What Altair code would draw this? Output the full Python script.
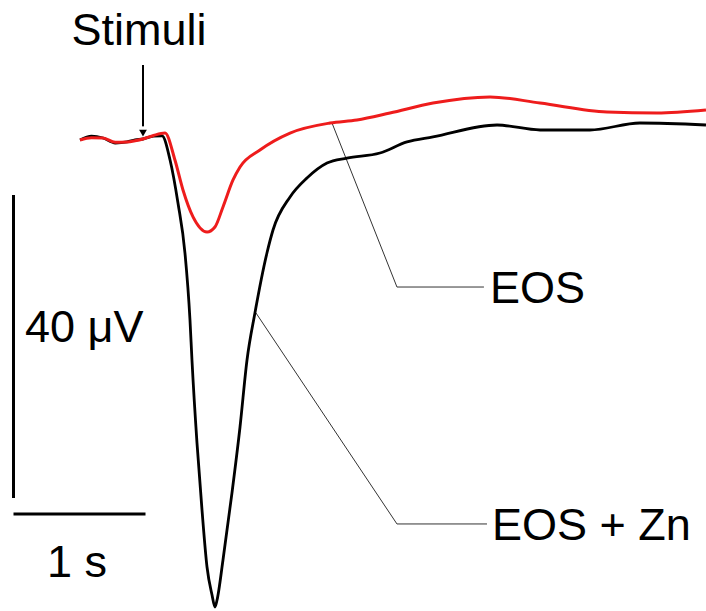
import altair as alt
import pandas as pd

# Time (s, stimulus at 0) and field potential (µV, baseline 0)
t_zn = [-0.477, -0.390, -0.303, -0.210, -0.121, -0.060, 0.0, 0.080, 0.144, 0.205, 0.265, 0.318,
        0.356, 0.371, 0.409, 0.447, 0.485, 0.523, 0.545, 0.561, 0.606, 0.674, 0.735, 0.788,
        0.848, 0.939, 0.985, 1.114, 1.242, 1.394, 1.545, 1.795, 2.000, 2.197, 2.682, 3.008,
        3.386, 3.765, 4.265]
v_zn = [0.0, 0.5, 0.26, -0.4, -0.26, 0.0, 0.13, 0.5, 0.53, -2.64, -8.32, -14.92,
        -23.76, -29.04, -39.99, -48.84, -56.37, -60.07, -61.65, -60.73, -55.45, -46.60, -37.89, -29.04,
        -22.84, -14.92, -11.88, -7.52, -5.02, -3.04, -2.38, -1.72, -0.26, 0.40, 1.98, 1.32,
        1.32, 2.24, 1.98]

t_eos = [-0.477, -0.390, -0.303, -0.210, -0.121, -0.060, 0.0, 0.080, 0.167, 0.242, 0.303, 0.379,
         0.485, 0.545, 0.606, 0.682, 0.735, 0.886, 1.114, 1.417, 1.621, 1.871, 2.197, 2.629,
         3.008, 3.515, 3.894, 4.265]
v_eos = [0.0, 0.3, 0.26, -0.3, -0.26, -0.1, 0.13, 0.6, 0.92, -2.64, -6.60, -10.16,
         -12.15, -11.49, -8.84, -5.28, -3.56, -1.32, 0.92, 2.24, 2.64, 3.56, 4.88, 5.68,
         4.88, 3.70, 3.56, 3.96]

# Leader lines for labels
lead_eos_t = [1.432, 1.924, 2.583]
lead_eos_v = [2.24, -19.41, -19.41]
lead_zn_t = [0.856, 1.924, 2.606]
lead_zn_v = [-22.84, -50.69, -50.69]

# Scale bars: 40 µV and 1 s
bar_t0, bar_v0 = -0.981, -7.26
bar_v_len = 40.0
bar_t_len = 1.0
hbar_v = -49.37

# Labels
label_text = ["EOS", "EOS + Zn", "40 μV", "1 s", "Stimuli"]
label_t = [2.629, 2.644, -0.894, -0.727, -0.030]
label_v = [-21.52, -52.81, -26.67, -57.69, 12.54]
label_align = ["left", "left", "left", "left", "center"]

# Stimulus arrow
arrow_t = 0.0
arrow_v_top, arrow_v_bot, arrow_head_v = 9.90, 1.8, 0.9

X_DOM = [-1.0833, 4.2652]
Y_DOM = [-62.18, 18.48]

xs = alt.Scale(domain=X_DOM, nice=False, zero=False)
ys = alt.Scale(domain=Y_DOM, nice=False, zero=False)

def X(field="t"):
    return alt.X(f"{field}:Q", scale=xs, axis=None)

def Y(field="v"):
    return alt.Y(f"{field}:Q", scale=ys, axis=None)

df_zn = pd.DataFrame({"t": t_zn, "v": v_zn})
df_eos = pd.DataFrame({"t": t_eos, "v": v_eos})
df_le = pd.DataFrame({"t": lead_eos_t, "v": lead_eos_v, "i": range(3)})
df_lz = pd.DataFrame({"t": lead_zn_t, "v": lead_zn_v, "i": range(3)})

zn = alt.Chart(df_zn).mark_line(color="black", strokeWidth=2.8, interpolate="monotone").encode(x=X(), y=Y())
eos = alt.Chart(df_eos).mark_line(color="#ee1c1c", strokeWidth=3, interpolate="monotone").encode(x=X(), y=Y())

le = alt.Chart(df_le).mark_line(color="#333333", strokeWidth=1).encode(x=X(), y=Y(), order="i:O")
lz = alt.Chart(df_lz).mark_line(color="#333333", strokeWidth=1).encode(x=X(), y=Y(), order="i:O")

vbar = alt.Chart(pd.DataFrame({"t": [bar_t0], "v": [bar_v0], "v2": [bar_v0 - bar_v_len]})).mark_rule(
    color="black", strokeWidth=3).encode(x=X(), y=Y(), y2="v2:Q")
hbar = alt.Chart(pd.DataFrame({"t": [bar_t0], "t2": [bar_t0 + bar_t_len], "v": [hbar_v]})).mark_rule(
    color="black", strokeWidth=3).encode(x=X(), x2="t2:Q", y=Y())

arrow_line = alt.Chart(pd.DataFrame({"t": [arrow_t], "v": [arrow_v_top], "v2": [arrow_v_bot]})).mark_rule(
    color="black", strokeWidth=2).encode(x=X(), y=Y(), y2="v2:Q")
arrow_head = alt.Chart(pd.DataFrame({"t": [arrow_t], "v": [arrow_head_v]})).mark_point(
    shape="triangle-down", filled=True, color="black", size=60, opacity=1).encode(x=X(), y=Y())

df_lab = pd.DataFrame({"text": label_text, "t": label_t, "v": label_v, "align": label_align})
labels_left = alt.Chart(df_lab[df_lab["align"] == "left"]).mark_text(
    align="left", baseline="alphabetic", font="Liberation Sans", fontSize=45, color="black"
).encode(x=X(), y=Y(), text="text:N")
labels_center = alt.Chart(df_lab[df_lab["align"] == "center"]).mark_text(
    align="center", baseline="alphabetic", font="Liberation Sans", fontSize=45, color="black"
).encode(x=X(), y=Y(), text="text:N")

chart = alt.layer(
    le, lz, zn, eos, vbar, hbar, arrow_line, arrow_head, labels_left, labels_center
).properties(
    width=706, height=611, padding=0, autosize=alt.AutoSizeParams(type="none"),
    background="white"
).configure_view(stroke=None)

chart.save("out.html", embed_options={"renderer": "svg", "actions": False})
